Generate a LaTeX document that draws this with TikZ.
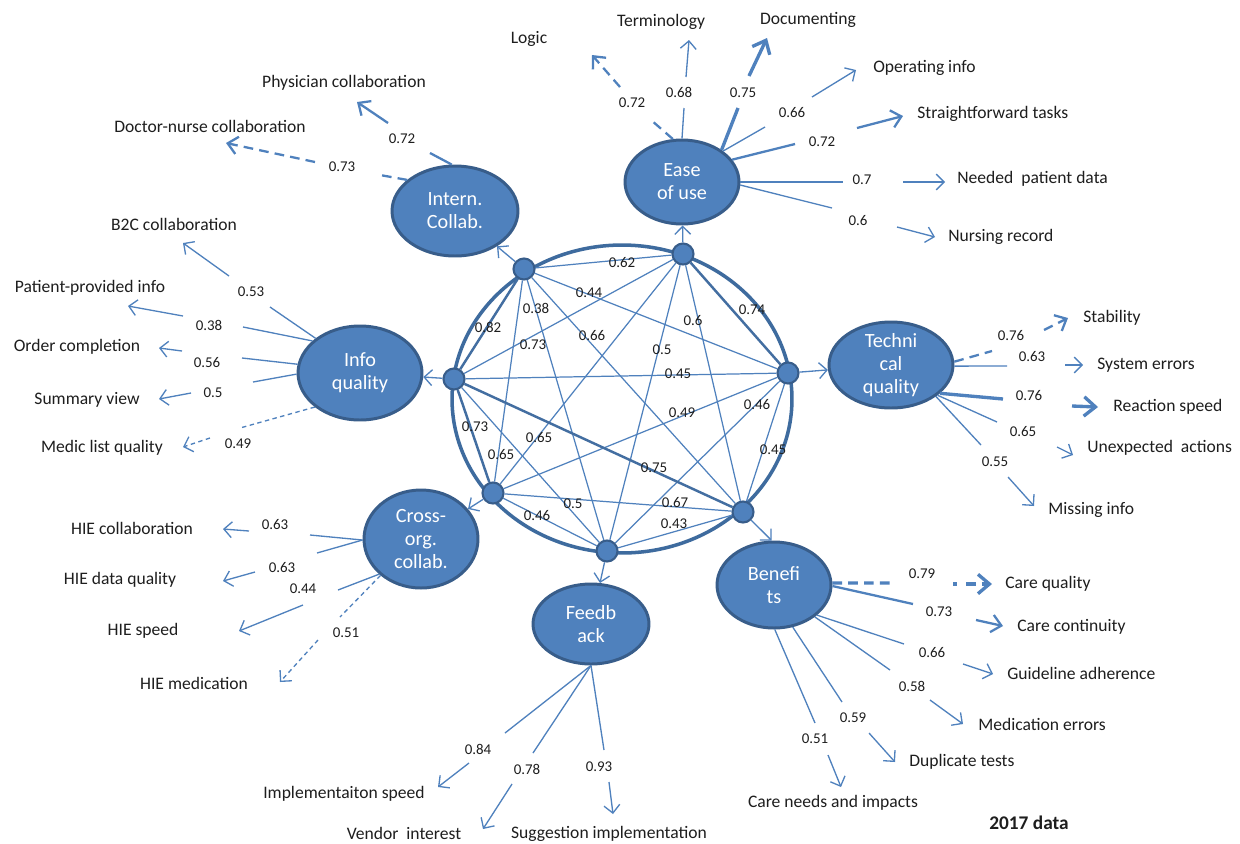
\documentclass[tikz,border=0pt]{standalone}
\usepackage{fontspec}
\setmainfont{Carlito}
\usetikzlibrary{shapes.geometric,arrows.meta}
\definecolor{fillblue}{HTML}{4F81BD}
\definecolor{edgeblue}{HTML}{385D8A}
\definecolor{lineblue}{HTML}{4F81BD}
\definecolor{ringblue}{HTML}{3E6B9E}
\definecolor{txt}{HTML}{1E1E1E}
\tikzset{
  big/.style={ellipse, draw=edgeblue, fill=fillblue, line width=1.7pt, inner sep=0pt},
  bigtext/.style={text=white, align=center, font=\fontsize{11.5}{13}\selectfont, inner sep=0pt},
  dotnode/.style={circle, draw=edgeblue, fill=fillblue, line width=1.2pt, minimum size=0.42cm, inner sep=0pt},
  num/.style={font=\fontsize{8.5}{10}\selectfont, text=txt, inner sep=0pt},
  lab/.style={font=\fontsize{10}{12}\selectfont, text=txt, inner sep=0pt},
  thinln/.style={draw=lineblue, line width=0.75pt},
  medln/.style={draw=lineblue, line width=1.3pt},
  thickln/.style={draw=lineblue, line width=1.9pt},
  edgeln/.style={draw=lineblue, line width=0.7pt},
  edgethick/.style={draw=lineblue!85!black, line width=1.4pt},
  thinarr/.style={-{Straight Barb[length=4.5pt,width=9pt]}},
  medarr/.style={-{Straight Barb[length=5.5pt,width=10pt]}},
  thickarr/.style={-{Straight Barb[length=6.5pt,width=11pt]}},
  dashmed/.style={dash pattern=on 5.5pt off 3.5pt},
  dashthin/.style={dash pattern=on 2.5pt off 2pt},
}
% #1 id, #2 line style, #3 start anchor, #4 end of first segment, #5 number position,
% #6 number, #7 arrow start, #8 arrow tip, #9 arrow style
\newcommand\indic[9]{%
  \coordinate (#1a) at #4;
  \coordinate (#1b) at #7;
  \coordinate (#1c) at #8;
  \node[num] (#1n) at #5 {#6};
  \draw[#2] (#3) -- (#1a);
  \draw[#2,#9] (#1b) -- (#1c);
}
\begin{document}
\begin{tikzpicture}[x=0.02cm,y=-0.02cm]
\fill[white] (0,0) rectangle (1240,843);
\useasboundingbox (0,0) rectangle (1240,843);

% ring
\node[ellipse, draw=ringblue, line width=2pt, minimum width=6.8cm, minimum height=6.16cm, inner sep=0pt] (ring) at (622,399) {};

% small nodes
\node[dotnode] (A) at (524,269) {};
\node[dotnode] (B) at (683,254) {};
\node[dotnode] (C) at (788,373) {};
\node[dotnode] (D) at (743,512) {};
\node[dotnode] (E) at (607,551) {};
\node[dotnode] (F) at (493,493) {};
\node[dotnode] (G) at (454,379) {};

% big ellipses
\node[big, minimum width=2.52cm, minimum height=1.8cm] (intern) at (455,211) {};
\node[big, minimum width=2.28cm, minimum height=1.68cm] (ease) at (682,182) {};
\node[big, minimum width=2.48cm, minimum height=1.88cm] (info) at (360,373) {};
\node[big, minimum width=2.48cm, minimum height=1.72cm] (tech) at (891,365) {};
\node[big, minimum width=2.28cm, minimum height=1.96cm] (cross) at (421,539) {};
\node[big, minimum width=2.32cm, minimum height=1.6cm] (feed) at (591,624) {};
\node[big, minimum width=2.28cm, minimum height=1.72cm] (ben) at (774,585) {};
\node[bigtext] (internt) at (intern) {Intern.\\Collab.};
\node[bigtext] (easet) at (ease) {Ease\\of use};
\node[bigtext] (infot) at (info) {Info\\quality};
\node[bigtext] (techt) at (tech) {Techni\\cal\\quality};
\node[bigtext] (crosst) at (cross) {Cross-\\org.\\collab.};
\node[bigtext] (feedt) at (feed) {Feedb\\ack};
\node[bigtext] (bent) at (ben) {Benefi\\ts};

% inner edges
\draw[edgeln] (A) -- (B);
\draw[edgeln] (A) -- (C);
\draw[edgeln] (A) -- (D);
\draw[edgeln] (A) -- (E);
\draw[edgeln] (A) -- (F);
\draw[edgethick] (A) -- (G);
\draw[edgethick] (B) -- (C);
\draw[edgeln] (B) -- (D);
\draw[edgeln] (B) -- (E);
\draw[edgeln] (B) -- (F);
\draw[edgeln] (B) -- (G);
\draw[edgeln] (C) -- (D);
\draw[edgeln] (C) -- (E);
\draw[edgeln] (C) -- (F);
\draw[edgeln] (C) -- (G);
\draw[edgeln] (D) -- (E);
\draw[edgeln] (D) -- (F);
\draw[edgethick] (D) -- (G);
\draw[edgeln] (E) -- (F);
\draw[edgeln] (E) -- (G);
\draw[edgethick] (F) -- (G);

% inner edge labels
\node[num] (lab) at (622,263) {0.62};
\node[num] (lac) at (589,293) {0.44};
\node[num] (lad) at (592,336) {0.66};
\node[num] (lae) at (536,308) {0.38};
\node[num] (laf) at (501,455) {0.65};
\node[num] (lag) at (488,327) {0.82};
\node[num] (lbc) at (752,310) {0.74};
\node[num] (lbd) at (693,321) {0.6};
\node[num] (lbe) at (662,350) {0.5};
\node[num] (lbf) at (539,438) {0.65};
\node[num] (lbg) at (533,345) {0.73};
\node[num] (lcd) at (773,450) {0.45};
\node[num] (lce) at (757,405) {0.46};
\node[num] (lcf) at (682,413) {0.49};
\node[num] (lcg) at (678,374) {0.45};
\node[num] (lde) at (674,524) {0.43};
\node[num] (ldf) at (675,503) {0.67};
\node[num] (ldg) at (654,468) {0.75};
\node[num] (lef) at (537,516) {0.46};
\node[num] (leg) at (573,504) {0.5};
\node[num] (lfg) at (475,427) {0.73};

% arrows from ring nodes to constructs
\draw[thinln,thinarr] (A) -- (intern);
\draw[thinln,thinarr] (B) -- (ease);
\draw[thinln,thinarr] (C) -- (tech);
\draw[thinln,thinarr] (D) -- (ben.93);
\draw[thinln,thinarr] (E) -- (feed);
\draw[thinln,thinarr] (F) -- (cross);
\draw[thinln,thinarr] (G) -- (info);

% Ease of use
\indic{logic}{medln,dashmed}{ease.102}{(651,120)}{(632,103)}{0.72}{(620,87)}{(592,55)}{medarr}
\node[lab] (logict) at (529,39) {Logic};
\indic{term}{thinln}{ease.90}{(684,108)}{(679,92)}{0.68}{(686,77)}{(689,40)}{thinarr}
\node[lab] (termt) at (661,22) {Terminology};
\indic{doc}{thickln}{ease.39}{(738,108)}{(743,93)}{0.75}{(749,76)}{(767,38)}{thickarr}
\node[lab] (doct) at (808,20) {Documenting};
\indic{oper}{thinln}{ease.37}{(765,127)}{(792,113)}{0.66}{(812,97)}{(856,70)}{thinarr}
\node[lab,anchor=west] (opert) at (873,68) {Operating info};
\indic{strf}{medln}{ease.24}{(795,144)}{(822,142)}{0.72}{(857,128)}{(903,116)}{medarr}
\node[lab,anchor=west] (strft) at (917,114) {Straightforward tasks};
\indic{need}{thinln}{ease.0}{(843,182)}{(862,180)}{0.7}{(903,182)}{(945,182)}{thinarr}
\node[lab,anchor=west] (needt) at (957,179) {Needed\ \ patient data};
\indic{nurs}{thinln}{ease.-3}{(832,208)}{(858,221)}{0.6}{(897,227)}{(935,237)}{thinarr}
\node[lab,anchor=west] (nurst) at (948,237) {Nursing record};

% Intern. Collab.
\indic{phys}{medln}{intern.94}{(430,153)}{(402,139)}{0.72}{(388,123)}{(357,102)}{medarr}
\node[lab] (physt) at (344,83) {Physician collaboration};
\indic{docn}{medln,dashmed}{intern.147}{(380,175)}{(342,167)}{0.73}{(315,162)}{(226,143)}{medarr}
\node[lab] (docnt) at (210,126) {Doctor-nurse collaboration};

% Info quality
\indic{btc}{thinln}{info.142}{(270,307)}{(251,292)}{0.53}{(229,276)}{(183,243)}{thinarr}
\node[lab] (btct) at (174,224) {B2C collaboration};
\indic{ppi}{thinln}{info.146}{(243,327)}{(209,325)}{0.38}{(183,316)}{(128,306)}{thinarr}
\node[lab] (ppit) at (90,288) {Patient-provided info};
\indic{ord}{thinln}{info.172}{(242,358)}{(207,363)}{0.56}{(182,351)}{(159,348)}{thinarr}
\node[lab] (ordt) at (77,347) {Order completion};
\indic{summ}{thinln}{info.181}{(253,382)}{(213,393)}{0.5}{(191,393)}{(159,399)}{thinarr}
\node[lab] (summt) at (87,400) {Summary view};
\indic{medl}{thinln,dashthin}{info.217}{(240,428)}{(238,444)}{0.49}{(210,438)}{(183,447)}{thinarr}
\node[lab] (medlt) at (102,448) {Medic list quality};

% Technical quality
\indic{stab}{medln,dashmed}{tech.3}{(992,351)}{(1011,336)}{0.76}{(1044,330)}{(1068,318)}{medarr}
\node[lab,anchor=west] (stabt) at (1083,318) {Stability};
\indic{syse}{thinln}{tech.-1}{(1007,366)}{(1032,357)}{0.63}{(1065,365)}{(1083,365)}{thinarr}
\node[lab,anchor=west] (syset) at (1097,365) {System errors};
\indic{reac}{thickln}{tech.-30}{(1003,399)}{(1029,396)}{0.76}{(1072,406)}{(1098,407)}{thickarr}
\node[lab,anchor=west] (react) at (1113,407) {Reaction speed};
\indic{unex}{thinln}{tech.-33}{(997,422)}{(1023,432)}{0.65}{(1057,447)}{(1073,455)}{thinarr}
\node[lab,anchor=west] (unext) at (1087,448) {Unexpected\ \ actions};
\indic{miss}{thinln}{tech.-35}{(981,445)}{(995,462)}{0.55}{(1008,477)}{(1034,506)}{thinarr}
\node[lab,anchor=west] (misst) at (1048,510) {Missing info};

% Cross-org. collab.
\indic{hiec}{thinln}{cross.181}{(310,535)}{(275,525)}{0.63}{(249,531)}{(223,529)}{thinarr}
\node[lab] (hiect) at (132,528) {HIE collaboration};
\indic{hied}{thinln}{cross.181}{(317,553)}{(282,568)}{0.63}{(255,572)}{(223,581)}{thinarr}
\node[lab] (hiedt) at (120,580) {HIE data quality};
\indic{hies}{thinln}{cross.220}{(338,590)}{(303,589)}{0.44}{(303,605)}{(239,631)}{thinarr}
\node[lab] (hiest) at (143,631) {HIE speed};
\indic{hiem}{thinln,dashthin}{cross.222}{(340,617)}{(346,633)}{0.51}{(318,640)}{(280,682)}{thinarr}
\node[lab] (hiemt) at (194,683) {HIE medication};

% Feedback
\indic{impl}{thinln}{feed.-90}{(505,733)}{(478,749)}{0.84}{(469,763)}{(438,787)}{thinarr}
\node[lab] (implt) at (344,794) {Implementaiton speed};
\indic{vend}{thinln}{feed.-90}{(533,753)}{(527,769)}{0.78}{(512,784)}{(483,829)}{thinarr}
\node[lab] (vendt) at (404,833) {Vendor\ \ interest};
\indic{sugg}{thinln}{feed.-90}{(604,750)}{(599,767)}{0.93}{(609,782)}{(613,814)}{thinarr}
\node[lab] (suggt) at (609,834) {Suggestion implementation};

% Benefits
\indic{cq}{thickln,dashmed}{ben.2}{(895,583)}{(922,574)}{0.79}{(966,584)}{(992,584)}{thickarr}
\coordinate (cqd1) at (953,584);
\coordinate (cqd2) at (957,584);
\draw[thickln] (cqd1) -- (cqd2);
\node[lab,anchor=west] (cqt) at (1005,584) {Care quality};
\indic{cc}{medln}{ben.-1}{(913,604)}{(939,612)}{0.73}{(976,620)}{(1003,626)}{medarr}
\node[lab,anchor=west] (cct) at (1017,627) {Care continuity};
\indic{guid}{thinln}{ben.-35}{(904,644)}{(932,652)}{0.66}{(963,664)}{(993,674)}{thinarr}
\node[lab,anchor=west] (guidt) at (1007,673) {Guideline adherence};
\indic{mede}{thinln}{ben.-38}{(890,670)}{(912,686)}{0.58}{(930,700)}{(963,724)}{thinarr}
\node[lab,anchor=west] (medet) at (978,724) {Medication errors};
\indic{dup}{thinln}{ben.-66}{(842,702)}{(853,718)}{0.59}{(869,733)}{(895,762)}{thinarr}
\node[lab,anchor=west] (dupt) at (909,762) {Duplicate tests};
\indic{cn}{thinln}{ben.-89}{(815,723)}{(815,739)}{0.51}{(828,755)}{(841,787)}{thinarr}
\node[lab] (cnt) at (833,803) {Care needs and impacts};

\node[font=\fontsize{11}{13}\selectfont\bfseries, text=txt, inner sep=0pt] (year) at (1029,823) {2017 data};
\end{tikzpicture}
\end{document}
